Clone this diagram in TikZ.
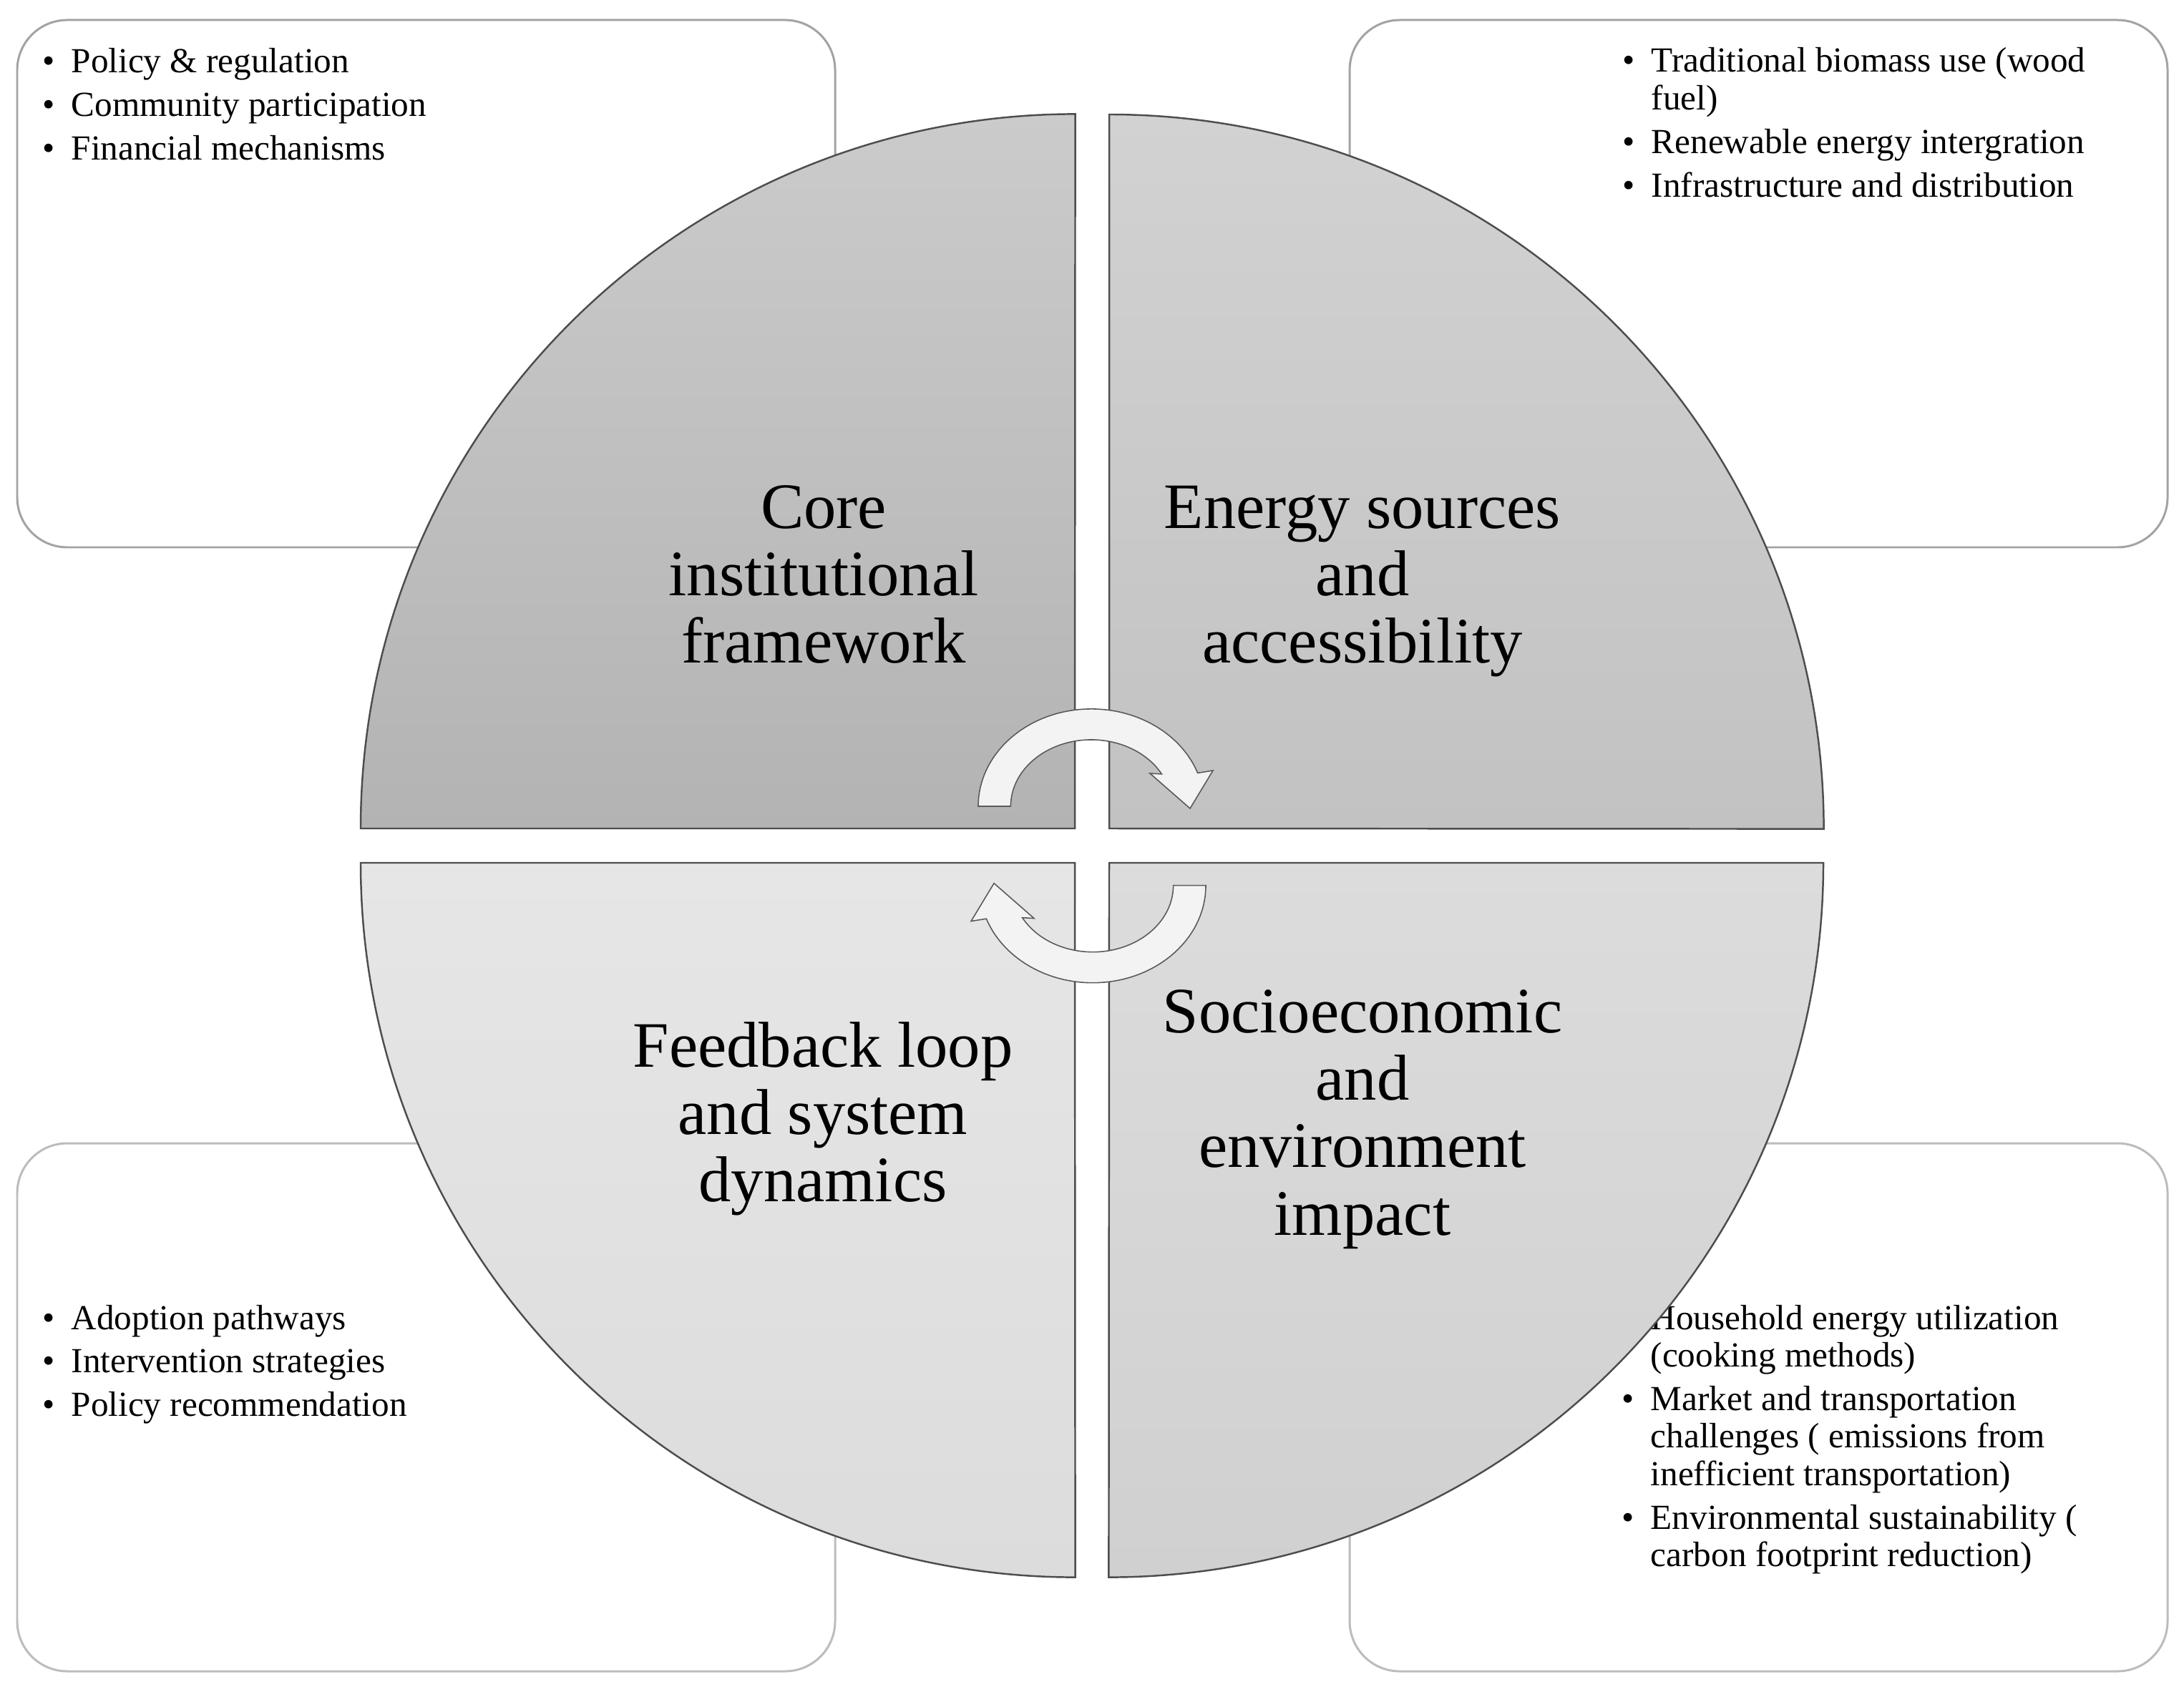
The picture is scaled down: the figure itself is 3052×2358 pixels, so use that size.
\documentclass[tikz,border=0pt]{standalone}
\usepackage{fontspec}
\setmainfont{Liberation Serif}
\definecolor{boxlineT}{HTML}{A3A3A3}
\definecolor{boxlineB}{HTML}{BCBCBC}
\definecolor{quadline}{HTML}{4D4D4D}
\definecolor{arrowline}{HTML}{5A5A5A}
\definecolor{arrowfill}{HTML}{F3F3F3}
\definecolor{tlTop}{HTML}{CBCBCB}
\definecolor{tlBot}{HTML}{B3B3B3}
\definecolor{trTop}{HTML}{D2D2D2}
\definecolor{trBot}{HTML}{C2C2C2}
\definecolor{blTop}{HTML}{E6E6E6}
\definecolor{blBot}{HTML}{DCDCDC}
\definecolor{brTop}{HTML}{DCDCDC}
\definecolor{brBot}{HTML}{D0D0D0}
\newcommand{\ctab}[1]{\begin{tabular}[t]{@{}c@{}}#1\end{tabular}}
\newcommand{\ltab}[1]{\begin{tabular}[t]{@{}l@{}}#1\end{tabular}}
\newcommand{\bul}{\llap{\makebox[0.64cm][c]{\textbullet}}}
\newcommand{\psep}{\\[2.36pt]}
\begin{document}
\begin{tikzpicture}[x=0.01cm, y=0.01cm,
  infobox/.style={draw=#1, line width=0.85pt, fill=white, rounded corners=0.7cm},
  quad/.style={draw=quadline, line width=0.7pt},
  cyclearrow/.style={draw=arrowline, line width=0.45pt, fill=arrowfill},
  maintext/.style={inner sep=0pt, anchor=base, font=\fontsize{25.75}{26.83}\selectfont},
  listtext/.style={inner sep=0pt, anchor=base west, font=\fontsize{14}{14.94}\selectfont}]
\useasboundingbox (0,0) rectangle (3052,-2358);
% outer boxes
\path[infobox=boxlineT] (24,-28) rectangle (1167,-765);
\path[infobox=boxlineT] (1886,-28) rectangle (3029,-765);
\path[infobox=boxlineB] (24,-1598) rectangle (1167,-2336);
\path[infobox=boxlineB] (1886,-1598) rectangle (3029,-2336);
% box texts
\node[listtext] (tlist) at (99,-102) {\ltab{\bul Policy \& regulation\psep
  \bul Community participation\psep
  \bul Financial mechanisms}};
\node[listtext] (trlist) at (2307,-101) {\ltab{\bul Traditional biomass use (wood\\
  fuel)\psep
  \bul Renewable energy intergration\psep
  \bul Infrastructure and distribution}};
\node[listtext] (bllist) at (99,-1858) {\ltab{\bul Adoption pathways\psep
  \bul Intervention strategies\psep
  \bul Policy recommendation}};
\node[listtext] (brlist) at (2306,-1858) {\ltab{\bul Household energy utilization\\
  (cooking methods)\psep
  \bul Market and transportation\\
  challenges ( emissions from\\
  inefficient transportation)\psep
  \bul Environmental sustainability (\\
  carbon footprint reduction)}};
% quadrants
\path[quad, top color=tlTop, bottom color=tlBot] (1502,-1158) -- (504,-1158) arc[start angle=180, end angle=90, radius=9.98cm] -- cycle;
\path[quad, top color=trTop, bottom color=trBot] (1550,-1158) -- (1550,-160) arc[start angle=90, end angle=0, radius=9.98cm] -- cycle;
\path[quad, top color=blTop, bottom color=blBot] (1502,-1206) -- (504,-1206) arc[start angle=180, end angle=270, radius=9.98cm] -- cycle;
\path[quad, top color=brTop, bottom color=brBot] (1550,-1206) -- (2548,-1206) arc[start angle=0, end angle=-90, radius=9.98cm] -- cycle;
% quadrant titles
\node[maintext] (core) at (1151,-738) {\ctab{Core\\institutional\\framework}};
\node[maintext] (energy) at (1904,-738) {\ctab{Energy sources\\and\\accessibility}};
\node[maintext] (feedback) at (1150,-1491) {\ctab{Feedback loop\\and system\\dynamics}};
\node[maintext] (socio) at (1904,-1443) {\ctab{Socioeconomic\\and\\environment\\impact}};
% cycle arrows
\path[cyclearrow] (1367,-1127) arc[start angle=180, end angle=20, x radius=1.58cm, y radius=1.36cm]
  -- (1695,-1077) -- (1663,-1130) -- (1607,-1081) -- (1623.4,-1081.9)
  arc[start angle=29, end angle=180, x radius=1.125cm, y radius=0.93cm] -- cycle;
\begin{scope}[rotate around={180:(1526,-1182.3)}]
\path[cyclearrow] (1367,-1127) arc[start angle=180, end angle=20, x radius=1.58cm, y radius=1.36cm]
  -- (1695,-1077) -- (1663,-1130) -- (1607,-1081) -- (1623.4,-1081.9)
  arc[start angle=29, end angle=180, x radius=1.125cm, y radius=0.93cm] -- cycle;
\end{scope}
\end{tikzpicture}
\end{document}
